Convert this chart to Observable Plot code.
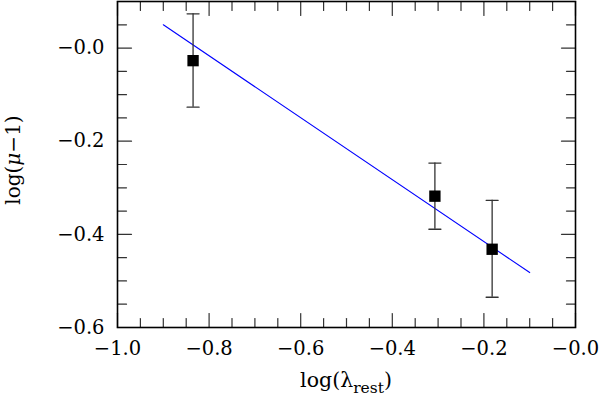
<!DOCTYPE html>
<html>
<head>
<meta charset="utf-8">
<script src="https://cdn.jsdelivr.net/npm/d3@7"></script>
<script src="https://cdn.jsdelivr.net/npm/@observablehq/plot@0.6"></script>
<style>
  html, body { margin: 0; padding: 0; background: #fff; }
  svg { display: block; }
</style>
</head>
<body>
<div id="chart"></div>
<script>
// Data points (log lambda_rest, log(mu-1)) with error bounds
const xVals = [-0.835, -0.307, -0.182];
const yVals = [-0.027, -0.318, -0.432];
const yLow  = [-0.127, -0.389, -0.535];
const yHigh = [0.0735, -0.247, -0.327];

// Fitted line endpoints
const fitX = [-0.9, -0.1];
const fitY = [0.05, -0.482];

// Tick values
const xMajor = [-1.0, -0.8, -0.6, -0.4, -0.2, 0.0];
const xMinor = [-0.95, -0.9, -0.85, -0.75, -0.7, -0.65, -0.55, -0.5, -0.45, -0.35, -0.3, -0.25, -0.15, -0.1, -0.05];
const yMajor = [-0.6, -0.4, -0.2, 0.0];
const yMinor = [-0.55, -0.5, -0.45, -0.35, -0.3, -0.25, -0.15, -0.1, -0.05, 0.05];

const points = xVals.map((x, i) => ({x, y: yVals[i], lo: yLow[i], hi: yHigh[i]}));
const fit = fitX.map((x, i) => ({x, y: fitY[i]}));

const lineShape = {draw(context, l) { context.moveTo(0, 0); context.lineTo(0, -l); }};
const fmt = d => "\u2212" + Math.abs(d).toFixed(1);
const tickStroke = "#333";

function ticksX(vals, len) {
  return [
    Plot.vector(vals, {x: d => d, frameAnchor: "bottom", length: len, rotate: 0, anchor: "start", shape: lineShape, stroke: tickStroke, strokeWidth: 1.2}),
    Plot.vector(vals, {x: d => d, frameAnchor: "top", length: len, rotate: 180, anchor: "start", shape: lineShape, stroke: tickStroke, strokeWidth: 1.2})
  ];
}
function ticksY(vals, len) {
  return [
    Plot.vector(vals, {y: d => d, frameAnchor: "left", length: len, rotate: 90, anchor: "start", shape: lineShape, stroke: tickStroke, strokeWidth: 1.2}),
    Plot.vector(vals, {y: d => d, frameAnchor: "right", length: len, rotate: 270, anchor: "start", shape: lineShape, stroke: tickStroke, strokeWidth: 1.2})
  ];
}

const chart = Plot.plot({
  width: 601,
  height: 396,
  marginLeft: 117,
  marginRight: 26,
  marginTop: 1,
  marginBottom: 69,
  style: {fontFamily: "'DejaVu Serif', serif", fontSize: "19.5px", color: "#000", background: "#fff"},
  x: {domain: [-1, 0], axis: null},
  y: {domain: [-0.6, 0.1], axis: null},
  marks: [
    ...ticksX(xMinor, 9),
    ...ticksX(xMajor, 14),
    ...ticksY(yMinor, 9),
    ...ticksY(yMajor, 14),
    Plot.axisX(xMajor, {anchor: "bottom", tickSize: 0, tickPadding: 14, tickFormat: fmt, fontSize: 19.5, label: null}),
    Plot.axisY(yMajor, {anchor: "left", tickSize: 0, tickPadding: 13, tickFormat: fmt, fontSize: 19.5, label: null}),
    Plot.line(fit, {x: "x", y: "y", stroke: "#0000ff", strokeWidth: 1.1}),
    Plot.ruleX(points, {x: "x", y1: "lo", y2: "hi", stroke: tickStroke, strokeWidth: 1.3}),
    Plot.vector(points, {x: "x", y: "lo", length: 12, rotate: 90, anchor: "middle", shape: lineShape, stroke: tickStroke, strokeWidth: 1.3}),
    Plot.vector(points, {x: "x", y: "hi", length: 12, rotate: 90, anchor: "middle", shape: lineShape, stroke: tickStroke, strokeWidth: 1.3}),
    Plot.dot(points, {x: "x", y: "y", symbol: "square", r: 6.4, fill: "#000", stroke: "none"}),
    Plot.frame({stroke: "#000", strokeWidth: 1.6})
  ]
});

const svg = d3.select(chart);
// Axis titles
svg.append("text")
  .attr("x", 346).attr("y", 387)
  .attr("text-anchor", "middle")
  .attr("font-family", "'DejaVu Serif', serif")
  .attr("font-size", 20.5)
  .attr("fill", "#000")
  .call(t => {
    t.append("tspan").text("log(\u03bb");
    t.append("tspan").attr("font-size", 15.5).attr("dy", 6).text("rest");
    t.append("tspan").attr("dy", -6).text(")");
  });
svg.append("text")
  .attr("transform", "translate(20,160) rotate(-90)")
  .attr("text-anchor", "middle")
  .attr("font-family", "'DejaVu Serif', serif")
  .attr("font-size", 20)
  .attr("fill", "#000")
  .call(t => {
    t.append("tspan").text("log(");
    t.append("tspan").attr("font-style", "italic").text("\u03bc");
    t.append("tspan").text("\u22121)");
  });

document.getElementById("chart").appendChild(chart);
</script>
</body>
</html>
